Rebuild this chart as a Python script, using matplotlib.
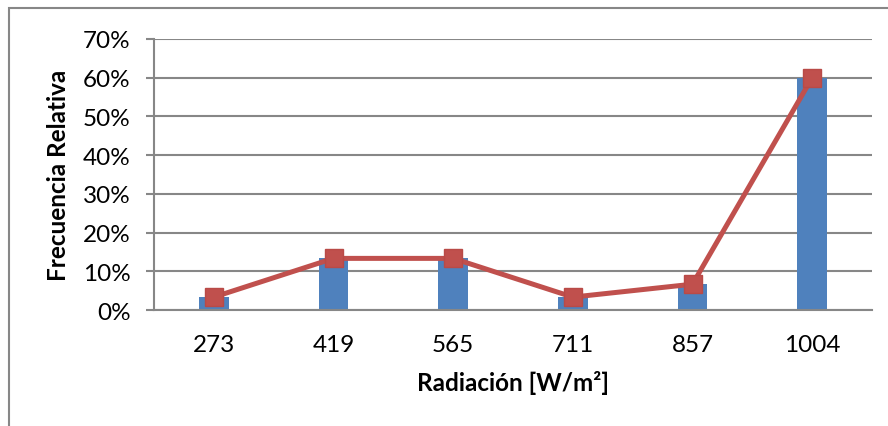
import matplotlib
matplotlib.use("Agg")
import matplotlib.pyplot as plt
from matplotlib.patches import Rectangle
from matplotlib.ticker import PercentFormatter, MultipleLocator

# Histogram of solar radiation classes (relative frequency)
categories = ["273", "419", "565", "711", "857", "1004"]
rel_freq = [1 / 30, 4 / 30, 4 / 30, 1 / 30, 2 / 30, 18 / 30]

BLUE = "#4F81BD"
RED = "#C0504D"
GRID = "#878787"

plt.rcParams["font.family"] = ["Lato", "DejaVu Sans"]

fig = plt.figure(figsize=(8.88, 4.27), dpi=100)
ax = fig.add_axes([154 / 888, 1 - 311 / 427, (872 - 154) / 888, (311 - 40) / 427])

x = list(range(len(categories)))
ax.bar(x, rel_freq, width=0.25, color=BLUE, zorder=2)
ax.plot(x, rel_freq, color=RED, lw=3.6, marker="s", markersize=13.5,
        markerfacecolor=RED, markeredgecolor="#B94A47", markeredgewidth=1,
        zorder=3, solid_capstyle="round")

ax.set_xlim(-0.5, len(categories) - 0.5)
ax.set_ylim(0, 0.70)
ax.yaxis.set_major_locator(MultipleLocator(0.10))
ax.yaxis.set_major_formatter(PercentFormatter(1.0, decimals=0))
ax.set_xticks(x)
ax.set_xticklabels(categories)

ax.grid(axis="y", color=GRID, lw=1.5, zorder=0)
ax.set_axisbelow(True)
for side in ("top", "right"):
    ax.spines[side].set_visible(False)
for side in ("left", "bottom"):
    ax.spines[side].set_color(GRID)
    ax.spines[side].set_linewidth(1.5)

ax.tick_params(axis="y", length=6, width=1.5, color=GRID, pad=11,
               labelsize=17.5, labelcolor="black")
ax.tick_params(axis="x", length=0, pad=17, labelsize=17.5, labelcolor="black")

ax.set_xlabel("Radiación [W/m²]", fontsize=17.5, fontweight="bold", labelpad=11)
ax.set_ylabel("Frecuencia Relativa", fontsize=17.5, fontweight="bold", labelpad=9)

# Chart-area frame
fig.patches.append(Rectangle((9 / 888, -0.1), 1.2, 1 - 9 / 427 + 0.1,
                             transform=fig.transFigure, fill=False,
                             edgecolor=GRID, lw=1.5))

fig.savefig("out.png", dpi=100)
